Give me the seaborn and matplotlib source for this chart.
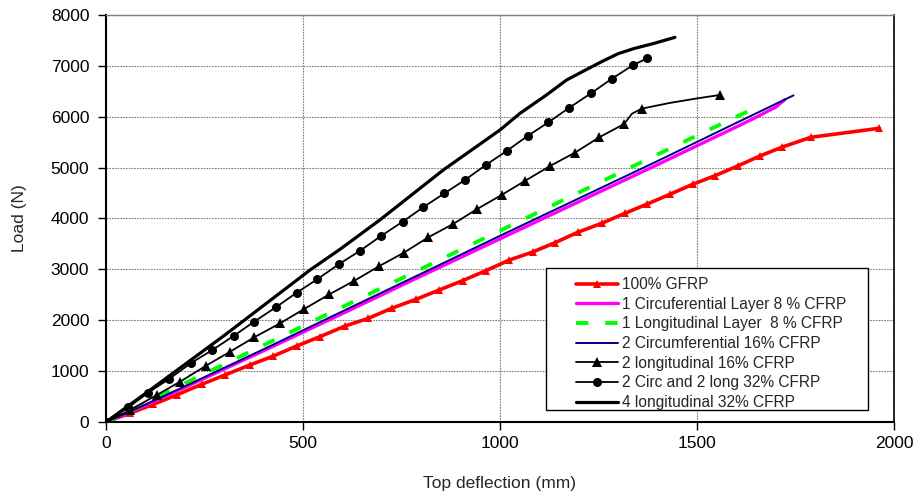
import matplotlib
matplotlib.use("Agg")
import matplotlib.pyplot as plt
from matplotlib.patches import Rectangle
import seaborn as sns
import pandas as pd

sns.set_theme(style="white")
plt.rcParams['font.family'] = ['Liberation Sans', 'DejaVu Sans']

# ---- data ----
gfrp_x = [0, 61, 120, 179, 243, 302, 365, 425, 484, 543, 607, 666, 725, 787, 846, 905, 964,
          1024, 1083, 1140, 1197, 1258, 1317, 1374, 1431, 1489, 1546, 1603, 1660, 1715, 1789, 1963]
gfrp_y = [0, 171, 348, 531, 741, 924, 1120, 1297, 1494, 1677, 1887, 2038, 2235, 2412, 2595, 2778, 2974,
          3184, 3342, 3525, 3728, 3905, 4102, 4285, 4475, 4672, 4842, 5032, 5229, 5400, 5596, 5773]

circ1_x = [0, 60, 200, 400, 600, 800, 1000, 1200, 1400, 1600, 1650, 1700, 1722]
circ1_y = [0, 190, 680, 1400, 2130, 2870, 3600, 4330, 5060, 5800, 5990, 6190, 6330]

long1_x = [0, 60, 200, 400, 600, 800, 1000, 1200, 1400, 1600, 1656]
long1_y = [0, 215, 760, 1510, 2260, 3010, 3760, 4510, 5260, 6000, 6200]

circ2_x = [0, 60, 200, 400, 600, 800, 1000, 1200, 1400, 1600, 1745]
circ2_y = [0, 200, 700, 1430, 2175, 2915, 3660, 4395, 5130, 5880, 6420]

long2_x = [0, 61, 129, 188, 254, 315, 376, 442, 503, 567, 629, 694, 756, 818, 881, 941, 1004,
           1063, 1127, 1190, 1252, 1315, 1335, 1360, 1430, 1500, 1558]
long2_y = [0, 236, 531, 792, 1107, 1382, 1664, 1940, 2221, 2510, 2771, 3066, 3328, 3630, 3892, 4181, 4462,
           4737, 5032, 5293, 5596, 5858, 6060, 6159, 6270, 6360, 6428]
long2_marked = [0, 1, 2, 3, 4, 5, 6, 7, 8, 9, 10, 11, 12, 13, 14, 15, 16, 17, 18, 19, 20, 21, 23, 26]

cl32_x = [0, 57, 107, 160, 215, 270, 325, 376, 431, 484, 536, 592, 645, 698, 753, 805, 859, 911,
          964, 1017, 1070, 1123, 1176, 1231, 1283, 1338, 1374]
cl32_y = [0, 289, 576, 845, 1154, 1415, 1697, 1972, 2254, 2542, 2805, 3106, 3367, 3656, 3937, 4220, 4495, 4757,
          5052, 5327, 5622, 5891, 6178, 6461, 6742, 7017, 7149]

long4_x = [0, 100, 200, 300, 400, 518, 595, 695, 856, 1000, 1051, 1118, 1169, 1220, 1260, 1300, 1340, 1390, 1444]
long4_y = [0, 560, 1130, 1700, 2290, 2988, 3400, 3971, 4953, 5740, 6068, 6428, 6722, 6930, 7090, 7240, 7340, 7440, 7560]

labels = ["100% GFRP", "1 Circuferential Layer 8 % CFRP", "1 Longitudinal Layer  8 % CFRP",
          "2 Circumferential 16% CFRP", "2 longitudinal 16% CFRP", "2 Circ and 2 long 32% CFRP",
          "4 longitudinal 32% CFRP"]

x_ticks = [0, 500, 1000, 1500, 2000]
y_ticks = [0, 1000, 2000, 3000, 4000, 5000, 6000, 7000, 8000]

series = [
    (gfrp_x, gfrp_y, dict(color='#FF0000', lw=2.6, marker='^', markersize=6, linestyle='-')),
    (circ1_x, circ1_y, dict(color='#FF00FF', lw=2.4, marker=None, linestyle='-')),
    (long1_x, long1_y, dict(color='#00FF00', lw=2.8, marker=None, linestyle=(0, (3.2, 4.3)))),
    (circ2_x, circ2_y, dict(color='#000080', lw=1.4, marker=None, linestyle='-')),
    (long2_x, long2_y, dict(color='#000000', lw=1.3, marker='^', markersize=7.5, linestyle='-',
                            markevery=long2_marked)),
    (cl32_x, cl32_y, dict(color='#000000', lw=1.3, marker='o', markersize=6.5, linestyle='-')),
    (long4_x, long4_y, dict(color='#000000', lw=2.3, marker=None, linestyle='-')),
]

fig = plt.figure(figsize=(9.16, 4.99), dpi=100)
ax = fig.add_axes([0.1157, 0.1543, 0.8603, 0.8157])

for (xs, ys, st), lab in zip(series, labels):
    df = pd.DataFrame({"x": xs, "y": ys})
    ls = st.pop('linestyle')
    sns.lineplot(data=df, x="x", y="y", ax=ax, sort=False, label=lab, estimator=None,
                 linestyle=ls, linewidth=st.pop('lw'), markeredgewidth=0, **st)

ax.set_xlim(0, 2000)
ax.set_ylim(0, 8000)
ax.set_xticks(x_ticks)
ax.set_yticks(y_ticks)
ax.tick_params(axis='both', direction='out', length=6, width=1, colors='black',
               labelsize=12.5, bottom=True, left=True)
ax.tick_params(axis='y', pad=6)
ax.tick_params(axis='x', pad=4)
ax.grid(True, color='#7f7f7f', linestyle=(0, (1.5, 1)), linewidth=0.8)
ax.set_axisbelow(True)
for side in ['left', 'bottom']:
    ax.spines[side].set_color('black')
    ax.spines[side].set_linewidth(1.5)
ax.spines['right'].set_color('black')
ax.spines['right'].set_linewidth(1.2)
ax.spines['top'].set_color('#808080')
ax.spines['top'].set_linewidth(1.0)

ax.set_xlabel("Top deflection (mm)", fontsize=12.5, labelpad=18)
ax.set_ylabel("Load (N)", fontsize=12.5, labelpad=17)

box = Rectangle((0.558, 0.029), 0.409, 0.349, transform=ax.transAxes, facecolor='white',
                edgecolor='black', linewidth=1.0, zorder=4)
ax.add_patch(box)
leg = ax.legend(loc='upper left', bbox_to_anchor=(0.596, 0.356), frameon=False,
                fontsize=11.2, handlelength=2.7, borderpad=0.0, labelspacing=0.3,
                handletextpad=0.26, borderaxespad=0)
leg.set_zorder(5)

fig.savefig("out.png", dpi=100)
